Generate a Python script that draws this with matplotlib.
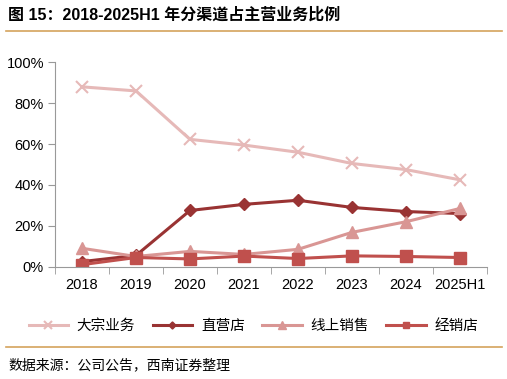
import matplotlib
matplotlib.use('Agg')
import matplotlib.pyplot as plt
import numpy as np

plt.rcParams['font.family'] = ['Liberation Sans', 'Noto Sans CJK SC', 'DejaVu Sans']

years = ['2018', '2019', '2020', '2021', '2022', '2023', '2024', '2025H1']
bulk = [88.0, 86.0, 62.3, 59.5, 56.0, 50.5, 47.5, 42.5]
direct = [2.5, 5.5, 27.5, 30.5, 32.5, 29.0, 27.0, 26.0]
online = [9.0, 5.0, 7.5, 6.0, 8.5, 16.8, 22.0, 28.5]
dealer = [1.0, 4.5, 3.8, 5.2, 4.0, 5.3, 5.0, 4.5]

fig = plt.figure(figsize=(5.07, 3.79), dpi=100)
ax = fig.add_axes([0.1085, 0.2963, 0.852, 0.5393])

x = np.arange(len(years))
ax.plot(x, bulk, color='#E6B9B8', lw=2.2, marker='x', ms=9, mew=1.5, label='大宗业务')
ax.plot(x, direct, color='#993333', lw=2.2, marker='D', ms=6, label='直营店')
ax.plot(x, online, color='#D99694', lw=2.2, marker='^', ms=9, label='线上销售')
ax.plot(x, dealer, color='#C0504D', lw=2.2, marker='s', ms=8, label='经销店')

ax.set_xlim(-0.5, len(years) - 0.5)
ax.set_ylim(0, 100)
ax.set_yticks(np.arange(0, 101, 20))
ax.set_yticklabels([f'{v}%' for v in range(0, 101, 20)], fontsize=10.5)
ax.set_xticks(x)
ax.set_xticklabels(years, fontsize=10.5)
ax.set_xticks(np.arange(-0.5, len(years), 1), minor=True)
ax.tick_params(axis='x', which='major', length=0, pad=8)
ax.tick_params(axis='x', which='minor', length=5, color='#999999', direction='out')
ax.tick_params(axis='y', length=5, color='#999999', direction='out', pad=3)
for s in ['top', 'right']:
    ax.spines[s].set_visible(False)
for s in ['left', 'bottom']:
    ax.spines[s].set_color('#999999')

fig.legend(loc='center', bbox_to_anchor=(0.5, 0.14), ncol=4, frameon=False,
           handlelength=2.7, columnspacing=1.2, handletextpad=0.6, markerscale=0.6,
           prop={'family': ['Noto Sans CJK SC'], 'size': 10.5})

fig.text(0.016, 0.96, '图 15：2018-2025H1 年分渠道占主营业务比例', fontsize=11.5,
         fontweight='bold', va='center', ha='left',
         family=['Liberation Sans', 'Noto Sans CJK SC'])
fig.add_artist(plt.Line2D([0.012, 0.99], [0.917, 0.917], color='#D4A35C', lw=1.2))
fig.add_artist(plt.Line2D([0.012, 0.99], [0.085, 0.085], color='#D4A35C', lw=1.2))
fig.text(0.016, 0.035, '数据来源：公司公告，西南证券整理', fontsize=10, style='italic',
         va='center', ha='left', family=['Noto Sans CJK SC'])

fig.savefig('out.png', dpi=100)
